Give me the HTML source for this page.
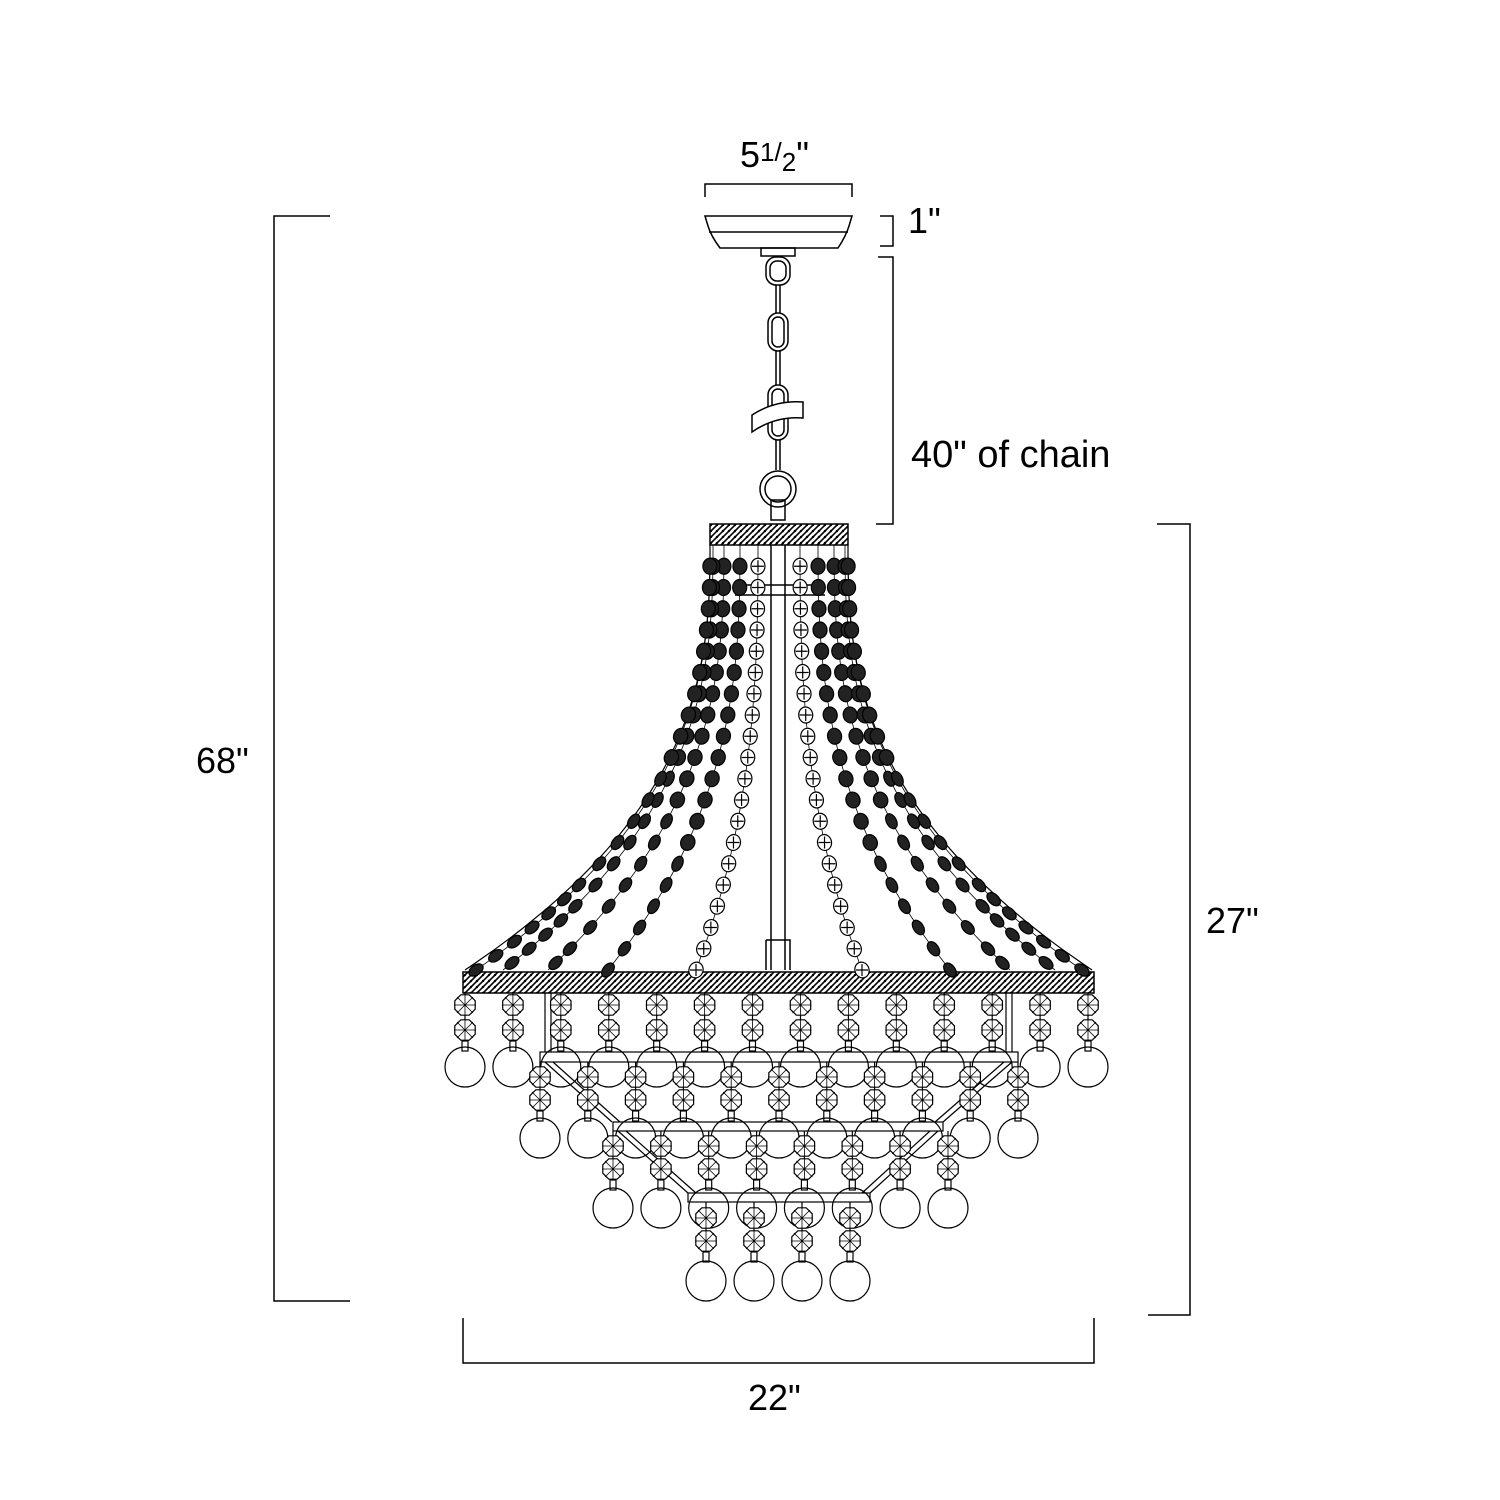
<!DOCTYPE html>
<html><head><meta charset="utf-8"><style>
html,body{margin:0;padding:0;background:#fff;width:1500px;height:1500px;overflow:hidden}
svg{position:absolute;left:0;top:0}
.t{font-family:"Liberation Sans",Arial,sans-serif;font-size:36px;fill:#000}
</style></head><body>
<svg id="s" width="1500" height="1500" viewBox="0 0 1500 1500" xmlns="http://www.w3.org/2000/svg">
<defs>
<pattern id="hp" width="6" height="6" patternUnits="userSpaceOnUse">
<rect width="6" height="6" fill="#fff"/><path d="M0 6L6 0M-1 1L1 -1M5 7L7 5" stroke="#000" stroke-width="1.6"/><circle cx="3" cy="3" r="1.2" fill="#000"/></pattern>
</defs>
<g fill="none" stroke="#000" stroke-width="1.5">
<path d="M330 216H274V1301H350"/>
<path d="M1157 524H1190V1315H1148"/>
<path d="M463 1318V1363H1094V1318"/>
<path d="M705 197V184H852V197"/>
<path d="M880 216H893V246H880"/>
<path d="M878 257H893V524H876"/>
<path d="M705 216H852L849 226Q846 236 838 248H720Q711 236 708 226Z"/>
<path d="M709 232H848"/>
<rect x="761" y="248" width="34" height="8"/>
<rect x="766" y="257" width="24" height="28" rx="10"/>
<rect x="770" y="261" width="16" height="20" rx="7"/>
<path d="M776 285V313M780 285V313"/>
<rect x="768" y="313" width="20" height="38" rx="10"/>
<rect x="772" y="317" width="12" height="30" rx="6"/>
<path d="M776 351V385M780 351V385"/>
<rect x="768" y="385" width="20" height="55" rx="10"/>
<rect x="772" y="389" width="12" height="47" rx="6"/>
<path d="M776 440V470M780 440V470"/>
<circle cx="778" cy="489" r="18"/><circle cx="778" cy="489" r="13"/>
<rect x="771" y="500" width="14" height="20"/>
<path d="M771 545V970M785 545V970"/>
<path d="M766 940H790V970M766 940V970"/>
<path d="M735 585H825M735 595H825"/>
</g>
<path d="M752 415Q775 400 803 402L803 418Q775 416 752 432Z" fill="#fff" stroke="#000" stroke-width="1.5"/>
<rect x="710" y="524" width="138" height="21" fill="url(#hp)" stroke="#000" stroke-width="1.5"/>
<rect x="463" y="972" width="631" height="21" fill="url(#hp)" stroke="#000" stroke-width="1.5"/>
<g id="g" stroke="#000" stroke-width="1.2" fill="none"></g>
<text class="t" x="740" y="167">5<tspan font-size="26" dy="-6">1/</tspan><tspan font-size="26" dy="10">2</tspan><tspan dy="-4">"</tspan></text>
<text class="t" x="908" y="233">1"</text>
<text class="t" x="911" y="467" style="font-size:38px">40" of chain</text>
<text class="t" x="196" y="773">68"</text>
<text class="t" x="1206" y="933">27"</text>
<text class="t" x="748" y="1410">22"</text>
</svg>
<script>
var g=document.getElementById('g'),h='';
function curvePts(x0,x1){var p=[];for(var i=0;i<=60;i++){var t=i/60;p.push([x0+(x1-x0)*Math.pow(t,2.6),545+425*t]);}return p;}
function pl(p){return p.map(function(a){return a[0].toFixed(1)+','+a[1].toFixed(1)}).join(' ');}
h+='<polyline points="'+pl(curvePts(710,465))+'"/>';
h+='<polyline points="'+pl(curvePts(848,1092))+'"/>';
var tops=[758,740,724,713,710,800,818,834,845,848],bots=[696,608,548,503,476,862,950,1010,1055,1082];
for(var k=0;k<tops.length;k++){
 var p=curvePts(tops[k],bots[k]);h+='<polyline points="'+pl(p)+'" stroke-width="0.8"/>';
 var acc=0,last=p[0];
 for(var i=1;i<p.length;i++){var d=Math.hypot(p[i][0]-last[0],p[i][1]-last[1]);acc+=d;last=p[i];
  if(acc>=20){acc=0;var a=Math.atan2(p[i][1]-p[i-1][1],p[i][0]-p[i-1][0])*180/Math.PI;
   var dark=(k%5)>=1; var rx=8,ry=(Math.abs(a-90)>25?5:7);
   h+='<ellipse cx="'+p[i][0]+'" cy="'+p[i][1]+'" rx="'+rx+'" ry="'+ry+'" transform="rotate('+a+' '+p[i][0]+' '+p[i][1]+')" fill="'+(dark?'#222':'#fff')+'"/>';
   if(!dark)h+='<path d="M'+(p[i][0]-6)+' '+p[i][1]+'h12M'+p[i][0]+' '+(p[i][1]-6)+'v12"/>';}
 }}
h+='<path d="M545 993V1052M551 993V1052M1012 993V1052M1006 993V1052"/>';
h+='<rect x="540" y="1052" width="478" height="10" fill="#fff"/>';
h+='<rect x="613" y="1122" width="330" height="9" fill="#fff"/>';
h+='<rect x="688" y="1193" width="182" height="9" fill="#fff"/>';
h+='<path d="M545 1062L612 1122M553 1062L620 1122M1012 1062L943 1122M1004 1062L935 1122M618 1131L688 1193M626 1131L696 1193M938 1131L870 1193M930 1131L862 1193"/>';
function oct(x,y){var s='';var r=11;var pts=[];for(var i=0;i<8;i++){var a=(i*45+22.5)*Math.PI/180;pts.push((x+r*Math.cos(a)).toFixed(1)+','+(y+r*Math.sin(a)).toFixed(1));}
 s+='<polygon points="'+pts.join(' ')+'" fill="#fff"/>';
 s+='<path d="M'+(x-11)+' '+y+'h22M'+x+' '+(y-11)+'v22M'+(x-8)+' '+(y-8)+'l16 16M'+(x+8)+' '+(y-8)+'l-16 16" stroke-width="0.8"/>';return s;}
function pend(x,y0,c1,c2,by){return '<path d="M'+x+' '+y0+'V'+(by-20)+'"/>'+oct(x,c1)+oct(x,c2)+'<rect x="'+(x-3)+'" y="'+(c2+11)+'" width="6" height="10" fill="#fff"/><circle cx="'+x+'" cy="'+by+'" r="20" fill="none"/>';}
var tiers=[[465,1088,14,993,1005,1030,1067],[540,1018,11,1062,1077,1100,1138],[613,948,8,1131,1146,1169,1208],[706,850,4,1202,1218,1241,1281]];
tiers.forEach(function(t){for(var i=0;i<t[2];i++){var x=t[0]+(t[1]-t[0])*i/(t[2]-1);h+=pend(x.toFixed(1)*1,t[3],t[4],t[5],t[6]);}});
g.innerHTML=h;
</script>
</body></html>
